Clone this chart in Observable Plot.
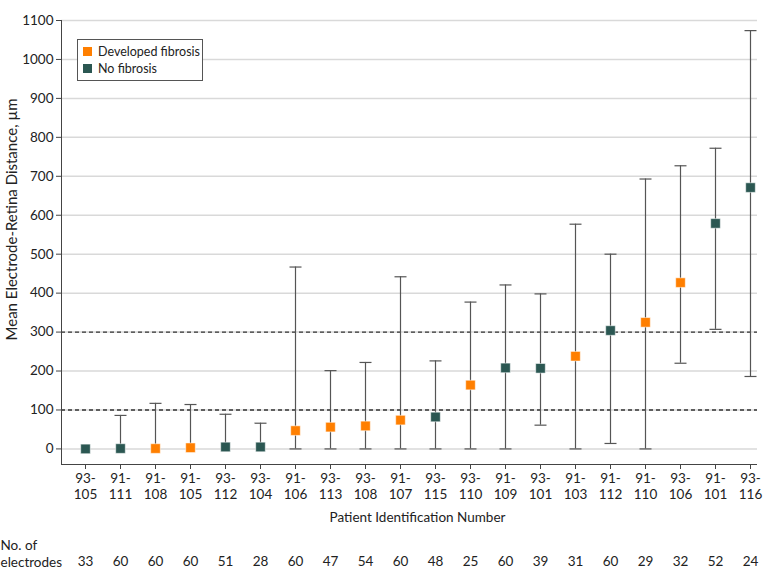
<!DOCTYPE html>
<html>
<head>
<meta charset="utf-8">
<script src="https://cdn.jsdelivr.net/npm/d3@7"></script>
<script src="https://cdn.jsdelivr.net/npm/@observablehq/plot@0.6"></script>
<style>
  body { margin: 0; background: #fff; font-family: Lato, "Liberation Sans", sans-serif; }
  #wrap { position: relative; width: 783px; height: 581px; }
  #legend { position: absolute; left: 77px; top: 39px; width: 124px; height: 40px; border: 1px solid #555; background: #fff; font-size: 12.5px; color: #222; }
  .item { position: absolute; left: 5px; display: flex; align-items: center; white-space: nowrap; }
  .sw { width: 9px; height: 9px; margin-right: 6px; }
</style>
</head>
<body>
<div id="wrap"></div>
<script>
const ids = ["93-105","91-111","91-108","91-105","93-112","93-104","91-106","93-113","93-108","91-107","93-115","93-110","91-109","93-101","91-103","91-112","91-110","93-106","91-101","93-116"];
const fibrosis = [false,false,true,true,false,false,true,true,true,true,false,true,false,false,true,false,true,true,false,false];
const means = [0,1,1,3,5,5,47,56,59,74,82,164,208,207,238,304,325,427,579,671];
const upper = [null,86,117,114,89,66,467,201,222,442,226,377,421,398,577,500,693,727,772,1074];
const lower = [null,null,null,null,null,null,0,0,0,0,0,0,0,61,0,14,0,220,307,186];
const electrodes = [33,60,60,60,51,28,60,47,54,60,48,25,60,39,31,60,29,32,52,24];
const yTicks = [0,100,200,300,400,500,600,700,800,900,1000,1100];
const yDomain = [-40, 1100];
const thresholds = [100, 300];
const groups = ["Developed fibrosis", "No fibrosis"];
const colors = ["#ff7f00", "#2b5752"];

const data = ids.map((id, i) => ({
  id, group: fibrosis[i] ? groups[0] : groups[1], mean: means[i],
  hi: upper[i], lo: lower[i], n: electrodes[i]
}));
const whiskers = data.filter(d => d.hi != null).map(d => ({id: d.id, y1: d.lo != null ? d.lo : d.mean, y2: d.hi}));
const caps = [];
data.forEach(d => { if (d.hi != null) caps.push({id: d.id, v: d.hi}); if (d.lo != null) caps.push({id: d.id, v: d.lo}); });

const capSymbol = { draw(ctx) { ctx.moveTo(-6, 0); ctx.lineTo(6, 0); } };
const FS = 13.5;

const chart = Plot.plot({
  width: 783, height: 581,
  marginLeft: 61, marginRight: 26, marginTop: 20, marginBottom: 117,
  style: { fontFamily: "Lato, 'Liberation Sans', sans-serif", fontSize: FS + "px", color: "#222", background: "#fff" },
  x: { type: "point", domain: ids, padding: 0, insetLeft: 17 },
  y: { domain: yDomain },
  color: { domain: groups, range: colors },
  marks: [
    Plot.gridY({ ticks: yTicks, stroke: "#d9d9d9", strokeOpacity: 1, strokeWidth: 1.5 }),
    Plot.ruleY(thresholds, { stroke: "#333", strokeWidth: 1.4, strokeDasharray: "4,3" }),
    Plot.ruleY([yDomain[0]], { stroke: "#444", strokeWidth: 1 }),
    Plot.frame({ anchor: "left", stroke: "#444" }),
    Plot.axisY({ ticks: yTicks, tickSize: 5, tickPadding: 3, label: null, stroke: "#444", tickFormat: d => String(d), fontSize: FS }),
    Plot.axisX({ tickSize: 5, tickPadding: 2, label: null, tickFormat: d => d.replace("-", "-\n"), lineHeight: 1.2, stroke: "#444", fontSize: FS }),
    Plot.text(["Mean Electrode-Retina Distance, \u00b5m"], { frameAnchor: "left", rotate: -90, textAnchor: "middle", lineAnchor: "middle", dx: -49, dy: -23, fontSize: 15 }),
    Plot.text(["Patient Identification Number"], { frameAnchor: "bottom", lineAnchor: "middle", dx: 8, dy: 53, fontSize: FS }),
    Plot.text(["No. of\nelectrodes"], { frameAnchor: "bottom-left", dx: -61, dy: 88.5, textAnchor: "start", lineAnchor: "middle", lineHeight: 1.25, fontSize: FS }),
    Plot.text(data, { x: "id", text: d => String(d.n), frameAnchor: "bottom", lineAnchor: "middle", dy: 97, fontSize: FS }),
    Plot.ruleX(whiskers, { x: "id", y1: "y1", y2: "y2", stroke: "#555", strokeWidth: 1.2 }),
    Plot.dot(caps, { x: "id", y: "v", symbol: capSymbol, stroke: "#555", strokeWidth: 1.2, fill: "none" }),
    Plot.dot(data, { x: "id", y: "mean", symbol: "square", r: 5.4, fill: "group", stroke: "#fff", strokeWidth: 0.5 })
  ]
});
const wrap = document.getElementById("wrap");
wrap.appendChild(chart);
const leg = document.createElement("div");
leg.id = "legend";
groups.forEach((g, i) => {
  const it = document.createElement("div");
  it.className = "item";
  it.style.top = (i === 0 ? 4 : 21) + "px";
  const sw = document.createElement("span");
  sw.className = "sw"; sw.style.background = colors[i];
  const t = document.createElement("span"); t.textContent = g;
  it.appendChild(sw); it.appendChild(t);
  leg.appendChild(it);
});
wrap.appendChild(leg);
</script>
</body>
</html>
